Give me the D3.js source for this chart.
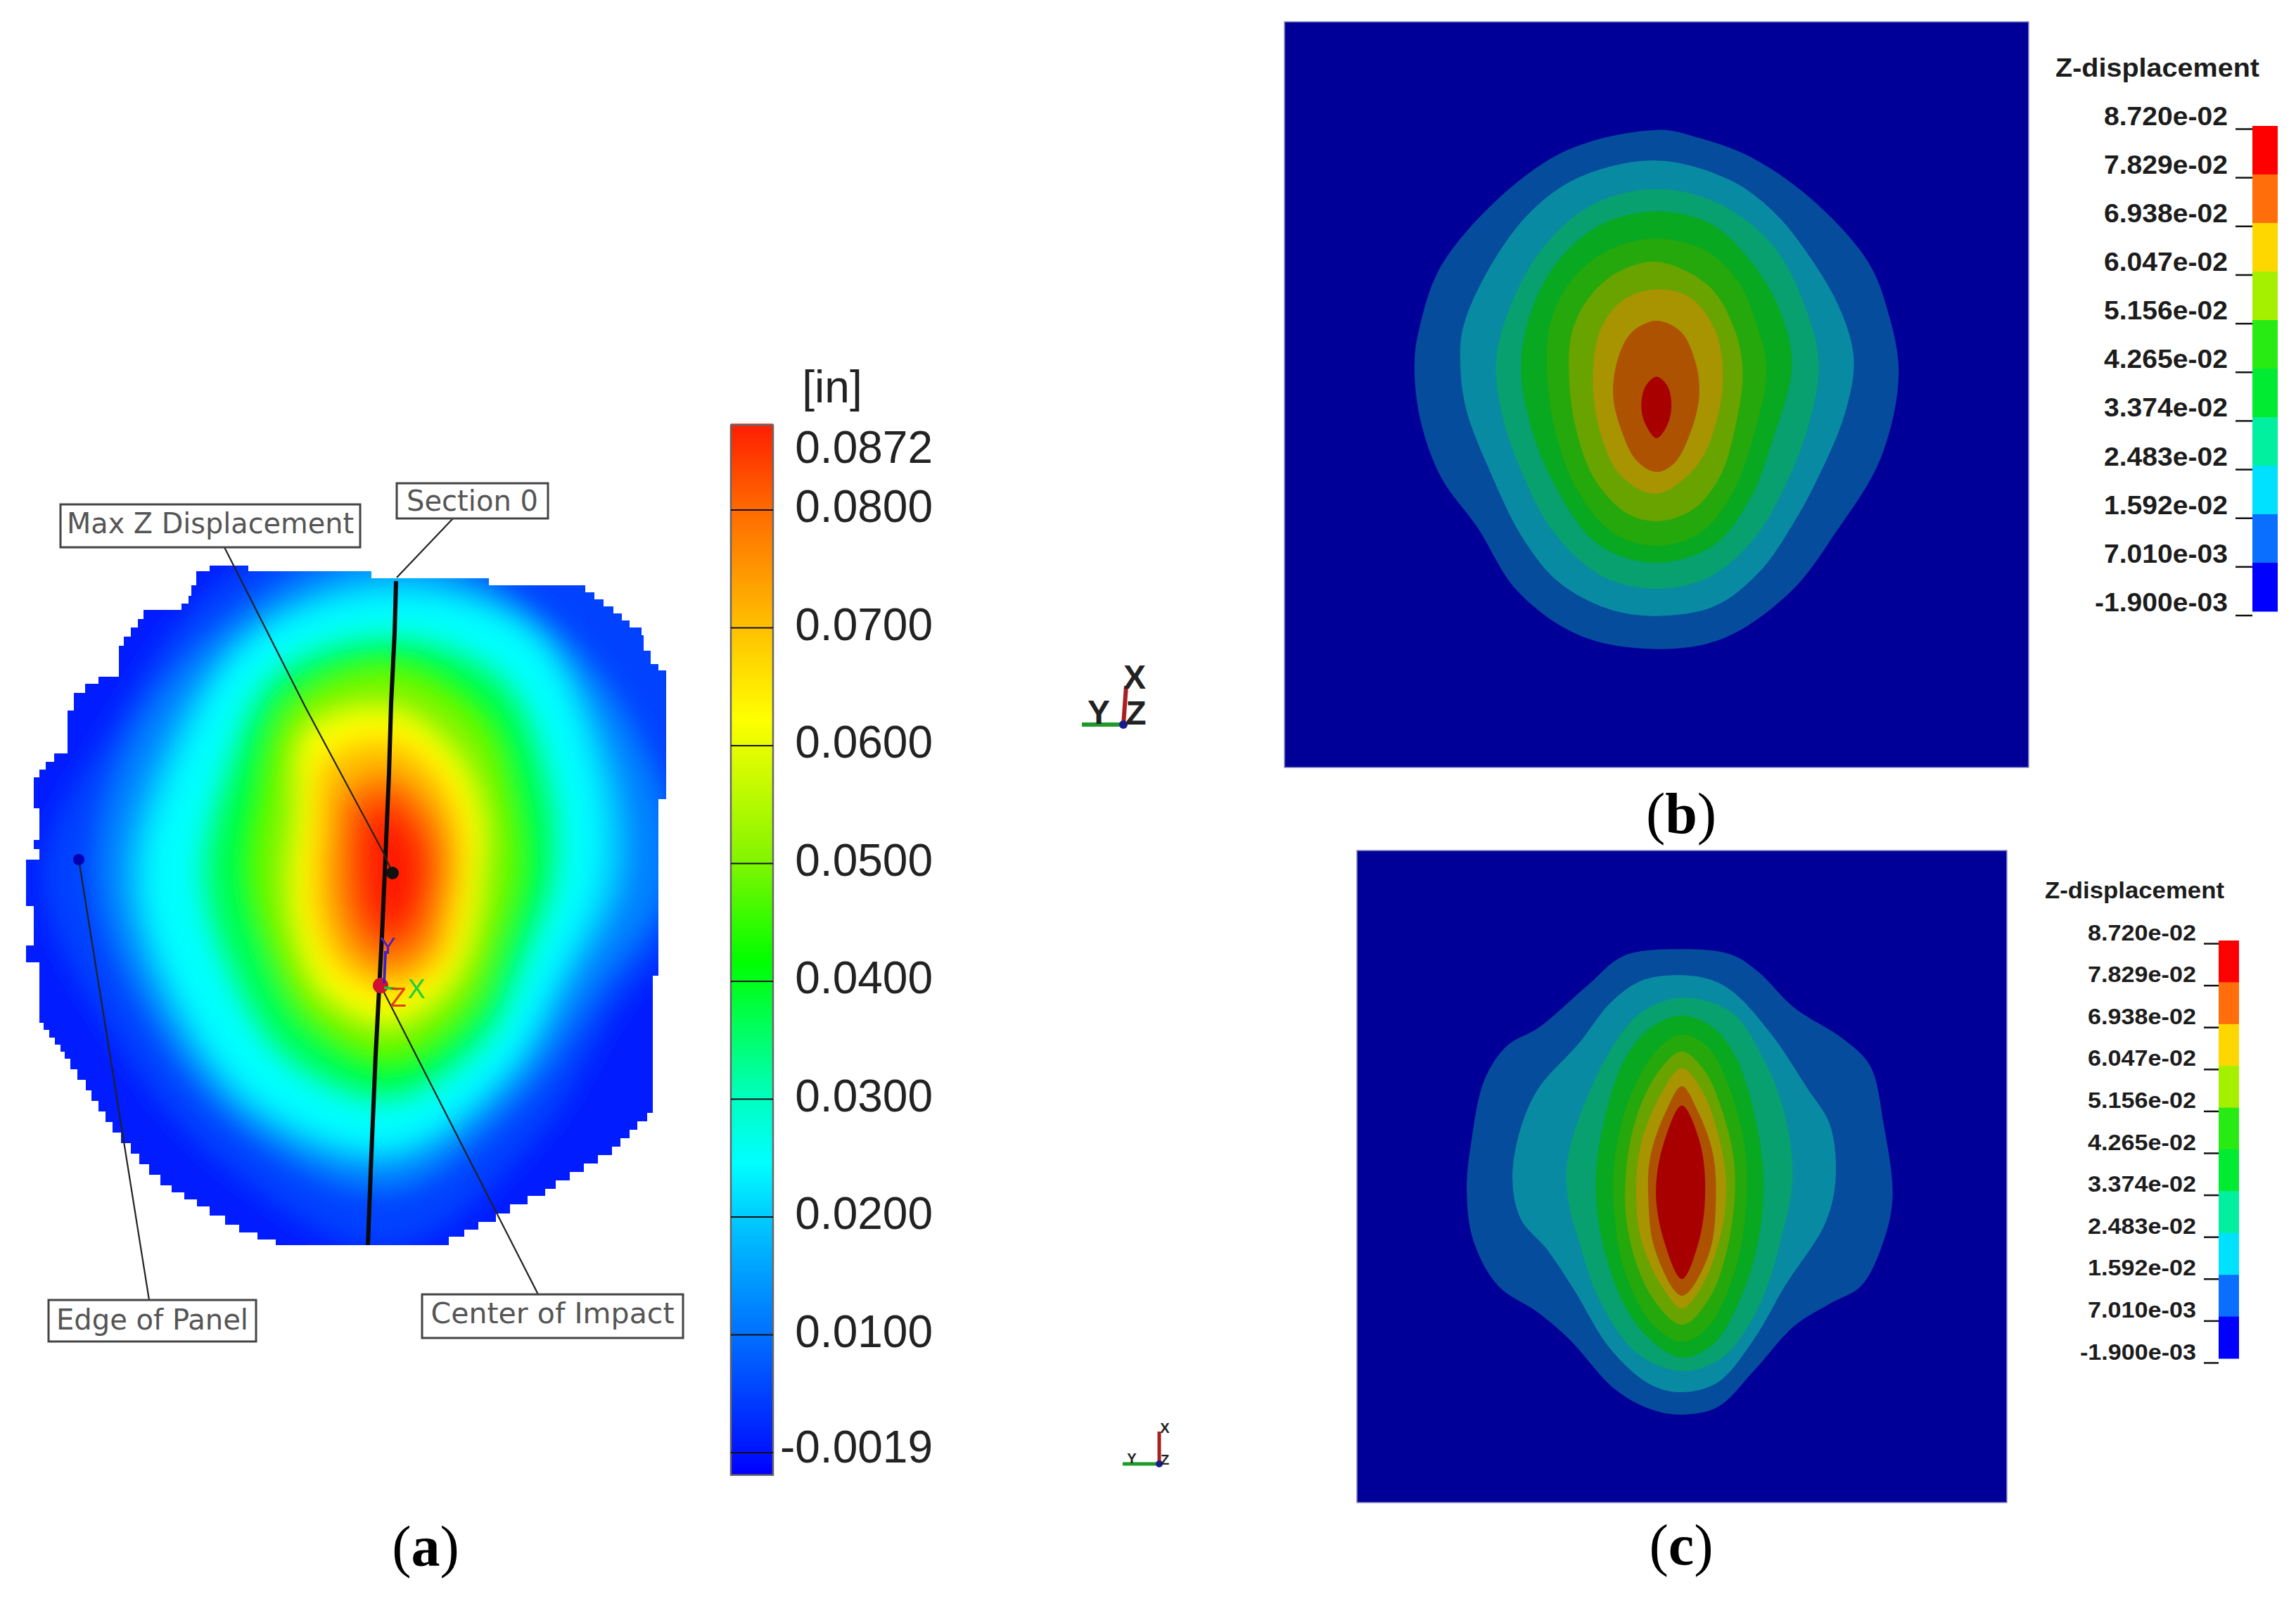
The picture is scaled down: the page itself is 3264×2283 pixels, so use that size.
<!DOCTYPE html>
<html>
<head>
<meta charset="utf-8">
<script src="https://cdn.jsdelivr.net/npm/d3@7"></script>
<style>
  body { margin: 0; background: #fff; }
  text { font-family: "Liberation Sans", Arial, sans-serif; }
</style>
</head>
<body>
<div id="figure"></div>
<script>
const fieldCenter = [555, 1245];
const fieldAngles = [0, 30, 60, 90, 120, 150, 180, 210, 240, 270, 300, 330];
const fieldLevels = [0.005, 0.012, 0.02, 0.0245, 0.036, 0.0416, 0.05, 0.0622, 0.07, 0.078, 0.084, 0.0872];
const fieldRadii = [
  [520, 530, 500, 470, 370, 420, 525, 470, 450, 490, 445, 480],
  [470, 425, 400, 400, 335, 365, 445, 415, 395, 415, 415, 430],
  [425, 405, 355, 330, 295, 335, 405, 390, 365, 372, 368, 400],
  [395, 395, 325, 293, 272, 318, 382, 368, 342, 345, 340, 385],
  [345, 328, 268, 240, 230, 275, 325, 305, 272, 272, 280, 335],
  [319, 285, 225, 205, 197, 240, 288, 255, 218, 222, 240, 300],
  [285, 245, 190, 170, 170, 210, 250, 225, 190, 185, 200, 272],
  [235, 190, 150, 127, 136, 172, 206, 188, 153, 140, 152, 235],
  [195, 155, 120, 105, 112, 145, 168, 152, 125, 113, 125, 190],
  [150, 118, 95, 85, 88, 118, 140, 118, 92, 85, 95, 140],
  [118, 90, 70, 62, 65, 85, 108, 85, 65, 58, 68, 105],
  [85, 62, 50, 45, 48, 60, 75, 55, 42, 38, 45, 72]
];

// jagged panel outline, clockwise from the top left notch
const panelOutline = [
  [298, 804], [353, 804], [353, 812], [528, 812], [528, 822], [695, 822], [695, 832], [815, 832],
  [832, 842], [845, 852], [858, 862], [872, 872], [884, 882], [895, 892], [912, 903], [915, 925],
  [925, 944], [936, 953], [947, 962], [947, 1136], [936, 1136], [936, 1387], [928, 1390], [928, 1582],
  [920, 1594], [906, 1606], [895, 1618], [882, 1630], [870, 1642], [850, 1654], [830, 1666], [810, 1678],
  [790, 1690], [775, 1700], [750, 1712], [725, 1725], [705, 1737], [680, 1748], [660, 1758], [638, 1770],
  [408, 1770], [392, 1762], [366, 1752], [340, 1741], [320, 1728], [298, 1715], [280, 1705], [262, 1695],
  [244, 1685], [228, 1670], [212, 1655], [198, 1640], [186, 1625], [172, 1610], [160, 1595], [150, 1580],
  [140, 1565], [130, 1550], [122, 1535], [110, 1520], [100, 1505], [92, 1495], [86, 1485], [78, 1475],
  [70, 1464], [62, 1454], [56, 1440], [56, 1368], [37, 1368], [37, 1344], [48, 1344], [48, 1288],
  [37, 1288], [37, 1222], [56, 1222], [56, 1207], [48, 1207], [48, 1194], [56, 1194], [56, 1149],
  [48, 1149], [48, 1105], [56, 1094], [65, 1083], [77, 1071], [96, 1071], [96, 1010], [105, 985],
  [121, 972], [140, 962], [169, 962], [169, 918], [176, 905], [186, 892], [196, 880], [204, 867],
  [249, 867], [258, 858], [268, 847], [272, 832], [279, 812], [298, 804]
];

const sectionLine = [[563, 826], [561, 900], [556, 1000], [553, 1100], [547, 1240], [543, 1330], [534, 1500], [528, 1640], [523, 1770]];

const calloutNames = ["Max Z Displacement", "Section 0", "Edge of Panel", "Center of Impact"];
const calloutBoxes = [[86, 717, 426, 61], [564, 687, 215, 50], [69, 1848, 295, 59], [600, 1840, 371, 62]];
const calloutTextWidths = [408, 187, 273, 346];
const calloutTextLift = [4, 0, 2, 4];
const calloutLeaders = [
  [[319, 778], [434, 1005], [545, 1212], [558, 1241]],
  [[644, 737], [564, 821]],
  [[112, 1222], [212, 1848]],
  [[541, 1401], [765, 1840]]
];
const calloutDots = [[558, 1241, 9, "#111111"], [112, 1222, 8, "#0000b0"], [541, 1401, 11, "#d01030"]];

// colour bar of panel (a)
const barStopValues = [-0.0019, 0, 0.01, 0.02, 0.0245, 0.03, 0.0416, 0.05, 0.0622, 0.07, 0.08, 0.0872];
const barStopColors = ["#0000ff", "#0014ff", "#0070ff", "#00ccff", "#00ffff", "#00ffc0", "#00ff00", "#80f500", "#ffff00", "#ffc000", "#ff6a00", "#ff1e00"];
const barLineValues = [0.08, 0.07, 0.06, 0.05, 0.04, 0.03, 0.02, 0.01, 0];
const barLabelValues = [0.0850, 0.08, 0.07, 0.06, 0.05, 0.04, 0.03, 0.02, 0.01, 0.0002];
const barLabels = ["0.0872", "0.0800", "0.0700", "0.0600", "0.0500", "0.0400", "0.0300", "0.0200", "0.0100", "-0.0019"];

// legends of panels (b) and (c)
const legendValues = [0.0872, 0.07829, 0.06938, 0.06047, 0.05156, 0.04265, 0.03374, 0.02483, 0.01592, 0.00701, -0.0019];
const legendLabels = ["8.720e-02", "7.829e-02", "6.938e-02", "6.047e-02", "5.156e-02", "4.265e-02", "3.374e-02", "2.483e-02", "1.592e-02", "7.010e-03", "-1.900e-03"];
const legendColors = ["#ff0000", "#ff6e0a", "#ffd700", "#a5f000", "#28eb14", "#00eb32", "#00f0a0", "#00e1ff", "#0a6eff", "#0000ff"];

// contour bands seen through the dimmed view, outside to centre
const bandBackground = "#000099";
const bandColors = ["#054c9c", "#098aa3", "#07a06e", "#08a820", "#24a80c", "#68a300", "#a89400", "#ad5200", "#a80000"];

// contour outlines, digitised in panel units
const contoursB = [
  [[870,235],[960,250],[1080,290],[1215,375],[1340,500],[1385,600],[1410,730],[1370,900],[1270,1050],[1170,1170],[1020,1265],[870,1287],[700,1260],[560,1170],[470,1040],[390,940],[345,830],[330,720],[340,640],[400,495],[640,290]],
  [[870,297],[1030,335],[1130,400],[1210,490],[1280,600],[1310,700],[1290,810],[1230,940],[1170,1040],[1100,1130],[1000,1200],[870,1220],[760,1205],[650,1150],[570,1060],[500,930],[445,800],[432,700],[440,630],[500,510],[590,400],[700,330]],
  [[870,355],[1010,385],[1130,470],[1200,590],[1232,710],[1210,830],[1160,950],[1090,1060],[990,1140],[870,1165],[750,1140],[640,1050],[570,930],[525,810],[512,700],[545,590],[620,470],[730,385]],
  [[870,400],[990,425],[1070,490],[1140,590],[1172,710],[1130,860],[1080,980],[1000,1075],[870,1112],[740,1075],[640,950],[585,820],[568,700],[600,580],[660,490],[750,425]],
  [[870,455],[980,480],[1050,540],[1090,620],[1115,720],[1085,860],[1040,970],[970,1050],[870,1078],[770,1050],[690,960],[640,830],[625,710],[635,620],[680,540],[760,480]],
  [[870,502],[985,550],[1040,630],[1062,720],[1045,840],[1010,940],[950,1005],[870,1028],[800,1010],[730,940],[690,840],[675,740],[680,650],[715,580],[780,525]],
  [[870,558],[945,575],[1000,640],[1018,730],[1005,820],[960,915],[870,972],[790,935],[745,850],[728,740],[745,640],[795,580]],
  [[870,622],[925,645],[958,710],[965,775],[945,850],[910,910],[870,928],[825,905],[790,840],[773,770],[785,695],[815,645]],
  [[870,735],[895,755],[903,798],[893,835],[870,860],[847,835],[836,798],[845,755]]
];
const contoursC = [
  [[770,250],[880,262],[940,300],[1020,380],[1130,450],[1190,510],[1220,640],[1240,800],[1220,900],[1170,1000],[1100,1040],[1020,1090],[930,1190],[850,1270],[770,1287],[700,1275],[620,1230],[520,1120],[450,1060],[360,1000],[305,900],[290,790],[300,680],[330,540],[380,465],[450,425],[560,330],[640,265]],
  [[770,308],[840,320],[890,350],[970,440],[1050,560],[1100,640],[1113,760],[1090,860],[1000,1000],[930,1120],[850,1215],[770,1237],[700,1220],[610,1140],[530,1010],[470,920],[410,850],[392,760],[410,650],[450,560],[540,460],[610,370],[680,320]],
  [[770,358],[880,390],[950,490],[1000,620],[1017,760],[990,900],[940,1050],[860,1160],[770,1190],[670,1150],[590,1040],[540,900],[515,800],[515,720],[550,600],[620,460],[680,390]],
  [[770,398],[840,425],[890,490],[930,610],[952,760],[940,900],[900,1030],[840,1130],[770,1160],[700,1120],[640,1040],[590,890],[578,760],[595,640],[640,500],[700,425]],
  [[770,440],[830,470],[880,570],[910,690],[915,800],[890,960],[830,1090],[770,1125],[700,1080],[640,960],[618,820],[620,720],[650,590],[710,480]],
  [[770,478],[820,520],[860,610],[888,740],[875,900],[830,1030],[770,1087],[700,1020],[650,880],[645,750],[670,620],[720,520]],
  [[770,515],[815,565],[850,660],[868,760],[860,870],[815,1000],[770,1050],[725,1000],[680,900],[668,790],[680,680],[725,570]],
  [[770,555],[805,610],[838,700],[846,800],[830,930],[770,1022],[710,920],[695,800],[700,710],[735,610]],
  [[770,598],[810,680],[822,790],[808,900],[770,985],[730,900],[712,790],[730,680]]
];

const width = 3264;
const height = 2283;

const svg = d3.select("#figure").append("svg")
  .attr("width", width)
  .attr("height", height)
  .style("display", "block");

const defs = svg.append("defs");
const fieldColor = d3.scaleLinear().domain(barStopValues).range(barStopColors);

// ---- panel (a) ----
const px = d3.scaleIdentity();
const py = d3.scaleIdentity();

defs.append("filter")
  .attr("id", "soften")
  .attr("filterUnits", "userSpaceOnUse")
  .attr("x", 0).attr("y", 500).attr("width", 1200).attr("height", 1500)
  .append("feGaussianBlur").attr("stdDeviation", 18);

defs.append("clipPath").attr("id", "panel-clip")
  .append("path")
  .attr("d", d3.line().x(d => px(d[0])).y(d => py(d[1])).curve(d3.curveStepAfter)(panelOutline) + "Z");

const field = svg.append("g").attr("clip-path", "url(#panel-clip)")
  .append("g").attr("filter", "url(#soften)");

field.append("rect")
  .attr("x", px(0)).attr("y", py(600))
  .attr("width", px(1100)).attr("height", py(1300))
  .attr("fill", fieldColor(0.001));

const ring = d3.lineRadial()
  .angle((d, i) => fieldAngles[i] * Math.PI / 180)
  .radius(d => d)
  .curve(d3.curveCatmullRomClosed);

field.selectAll("path")
  .data(fieldRadii)
  .enter()
  .append("path")
  .attr("transform", `translate(${px(fieldCenter[0])},${py(fieldCenter[1])})`)
  .attr("fill", (d, i) => fieldColor(fieldLevels[i]))
  .attr("d", d => ring(d));

const pathLine = d3.line().x(d => px(d[0])).y(d => py(d[1]));

svg.append("path")
  .attr("d", pathLine(sectionLine))
  .attr("fill", "none").attr("stroke", "#0a0a0a").attr("stroke-width", 6);

svg.selectAll(".leader")
  .data(calloutLeaders)
  .enter()
  .append("path")
  .attr("class", "leader")
  .attr("d", d => pathLine(d))
  .attr("fill", "none").attr("stroke", "#222").attr("stroke-width", 2.2);

svg.selectAll(".dot")
  .data(calloutDots)
  .enter()
  .append("circle")
  .attr("class", "dot")
  .attr("cx", d => px(d[0])).attr("cy", d => py(d[1])).attr("r", d => d[2])
  .attr("fill", d => d[3]);

// small coordinate system at the impact point
const impactAxes = svg.append("g");
impactAxes.append("line").attr("x1", 546).attr("y1", 1398).attr("x2", 548).attr("y2", 1352)
  .attr("stroke", "#3a20d0").attr("stroke-width", 4);
impactAxes.append("line").attr("x1", 546).attr("y1", 1404).attr("x2", 566).attr("y2", 1406)
  .attr("stroke", "#20c040").attr("stroke-width", 4);
impactAxes.append("text").attr("x", 551).attr("y", 1356).attr("text-anchor", "middle")
  .attr("font-size", 34).attr("fill", "#4a20d0").text("Y");
impactAxes.append("text").attr("x", 566).attr("y", 1431).attr("text-anchor", "middle")
  .attr("font-size", 38).attr("fill", "#e04010").text("Z");
impactAxes.append("text").attr("x", 592).attr("y", 1419).attr("text-anchor", "middle")
  .attr("font-size", 38).attr("fill", "#20d040").text("X");

const callout = svg.selectAll(".callout")
  .data(calloutNames)
  .enter()
  .append("g")
  .attr("class", "callout");

callout.append("rect")
  .attr("x", (d, i) => px(calloutBoxes[i][0]))
  .attr("y", (d, i) => py(calloutBoxes[i][1]))
  .attr("width", (d, i) => calloutBoxes[i][2])
  .attr("height", (d, i) => calloutBoxes[i][3])
  .attr("fill", "#fff").attr("stroke", "#444").attr("stroke-width", 3);

callout.append("text")
  .attr("x", (d, i) => px(calloutBoxes[i][0] + calloutBoxes[i][2] / 2))
  .attr("y", (d, i) => py(calloutBoxes[i][1] + calloutBoxes[i][3] / 2) - calloutTextLift[i])
  .attr("dy", "0.36em")
  .attr("text-anchor", "middle")
  .attr("textLength", (d, i) => calloutTextWidths[i])
  .attr("lengthAdjust", "spacingAndGlyphs")
  .attr("font-size", 40)
  .style("font-family", "'DejaVu Sans', sans-serif")
  .attr("fill", "#555")
  .text(d => d);

// colour bar (a)
const barY = d3.scaleLinear().domain([0, 0.08]).range([2065, 725]);
const barX = 1039;
const barW = 60;
const barSteps = d3.range(-0.0019, 0.0872, 0.0002);

svg.selectAll(".bar-step")
  .data(barSteps)
  .enter()
  .append("rect")
  .attr("class", "bar-step")
  .attr("x", barX).attr("width", barW)
  .attr("y", d => barY(d + 0.0002) - 0.5)
  .attr("height", d => barY(d) - barY(d + 0.0002) + 1)
  .attr("fill", d => fieldColor(d));

svg.append("rect")
  .attr("x", barX).attr("y", barY(0.0872))
  .attr("width", barW).attr("height", barY(-0.0019) - barY(0.0872))
  .attr("fill", "none").attr("stroke", "#666").attr("stroke-width", 2.5);

svg.selectAll(".bar-line")
  .data(barLineValues)
  .enter()
  .append("line")
  .attr("class", "bar-line")
  .attr("x1", barX).attr("x2", barX + barW)
  .attr("y1", d => barY(d)).attr("y2", d => barY(d))
  .attr("stroke", "#111").attr("stroke-width", 2);

svg.append("g")
  .attr("transform", `translate(${barX + barW},0)`)
  .call(d3.axisRight(barY).tickValues(barLabelValues).tickSize(0).tickFormat((d, i) => barLabels[i]))
  .call(g => g.select(".domain").remove())
  .selectAll("text")
  .attr("x", 227)
  .attr("dy", "0.26em")
  .attr("text-anchor", "end")
  .attr("font-size", 64)
  .style("font-family", "'Liberation Sans', sans-serif")
  .attr("fill", "#222");

svg.append("text")
  .attr("x", 1183).attr("y", 572)
  .attr("text-anchor", "middle")
  .attr("font-size", 64)
  .attr("fill", "#222")
  .text("[in]");

// XYZ triads
function drawTriad(cfg) {
  const g = svg.append("g");
  g.append("line").attr("x1", cfg.ox).attr("y1", cfg.oy).attr("x2", cfg.ox - cfg.yLen).attr("y2", cfg.oy)
    .attr("stroke", "#1d9a2a").attr("stroke-width", cfg.stroke);
  g.append("line").attr("x1", cfg.ox).attr("y1", cfg.oy).attr("x2", cfg.ox + cfg.lean).attr("y2", cfg.oy - cfg.xLen)
    .attr("stroke", "#a82020").attr("stroke-width", cfg.stroke);
  g.append("circle").attr("cx", cfg.ox).attr("cy", cfg.oy).attr("r", cfg.stroke)
    .attr("fill", "#1a1a90");
  cfg.labels.forEach(l => {
    g.append("text").attr("x", l[1]).attr("y", l[2])
      .attr("text-anchor", "middle").attr("font-size", cfg.size)
      .attr("fill", "#222").attr("font-weight", cfg.weight).text(l[0]);
  });
}

drawTriad({ ox: 1597, oy: 1030, yLen: 59, xLen: 55, lean: 4, stroke: 6, size: 48, weight: 700,
  labels: [["X", 1613, 979], ["Y", 1562, 1029], ["Z", 1615, 1030]] });
drawTriad({ ox: 1648, oy: 2081, yLen: 52, xLen: 46, lean: 0, stroke: 5, size: 20, weight: 700,
  labels: [["X", 1656, 2037], ["Y", 1609, 2080], ["Z", 1656, 2082]] });

// ---- panels (b) and (c) ----
function drawPanel(contours, box, domainX, domainY) {
  const x = d3.scaleLinear().domain(domainX).range([box.x0, box.x1]);
  const y = d3.scaleLinear().domain(domainY).range([box.y0, box.y1]);
  svg.append("rect")
    .attr("x", box.x0).attr("y", box.y0)
    .attr("width", box.x1 - box.x0).attr("height", box.y1 - box.y0)
    .attr("fill", bandBackground).attr("stroke", "#8c8cc4").attr("stroke-width", 1.5);
  const outline = d3.line().x(d => x(d[0])).y(d => y(d[1])).curve(d3.curveCatmullRomClosed);
  svg.append("g").selectAll("path")
    .data(contours)
    .enter()
    .append("path")
    .attr("d", d => outline(d))
    .attr("fill", (d, i) => bandColors[i]);
}

drawPanel(contoursB, { x0: 1826, x1: 2884, y0: 31, y1: 1091 }, [40, 1700], [16, 1527]);
drawPanel(contoursC, { x0: 1929, x1: 2853, y0: 1209, y1: 2136 }, [45, 1495], [30, 1483]);

function drawLegend(cfg) {
  const tickY = d3.scaleLinear().domain([-0.0019, 0.0872]).range([cfg.tickBottom, cfg.tickTop]);
  const segY = d3.scaleLinear().domain([-0.0019, 0.0872]).range([cfg.barBottom, cfg.barTop]);
  svg.append("g").selectAll("rect")
    .data(legendColors)
    .enter()
    .append("rect")
    .attr("x", cfg.barX).attr("width", cfg.barW)
    .attr("y", (d, i) => segY(legendValues[i]))
    .attr("height", (d, i) => segY(legendValues[i + 1]) - segY(legendValues[i]) + 0.5)
    .attr("fill", d => d);

  const axis = svg.append("g")
    .attr("transform", `translate(${cfg.barX},0)`)
    .call(d3.axisLeft(tickY).tickValues(legendValues).tickSize(cfg.tickLen).tickPadding(cfg.pad)
      .tickFormat((d, i) => legendLabels[i]))
    .call(g => g.select(".domain").remove());
  axis.selectAll("line").attr("stroke", "#111").attr("stroke-width", 2.5);
  axis.selectAll("text")
    .attr("dy", cfg.labelDy)
    .attr("font-size", cfg.size)
    .attr("font-weight", 700)
    .style("font-family", "'Liberation Sans', sans-serif")
    .attr("fill", "#1c1c1c")
    .attr("textLength", d => d < 0 ? cfg.widthNeg : cfg.widthPos)
    .attr("lengthAdjust", "spacingAndGlyphs");

  svg.append("text")
    .attr("x", cfg.titleX).attr("y", cfg.titleY)
    .attr("textLength", cfg.titleW)
    .attr("lengthAdjust", "spacingAndGlyphs")
    .attr("font-size", cfg.size + 1)
    .attr("font-weight", 700)
    .attr("fill", "#1c1c1c")
    .text("Z-displacement");
}

drawLegend({ barX: 3202, barW: 36, barTop: 179, barBottom: 869, tickTop: 183, tickBottom: 874.5,
  tickLen: 24, pad: 11, labelDy: -6, size: 36, widthPos: 176, widthNeg: 189,
  titleX: 2922, titleY: 109, titleW: 290 });
drawLegend({ barX: 3154, barW: 29, barTop: 1337, barBottom: 1931, tickTop: 1341, tickBottom: 1937,
  tickLen: 21, pad: 11, labelDy: -5, size: 32, widthPos: 154, widthNeg: 165,
  titleX: 2907, titleY: 1277, titleW: 255 });

// ---- captions ----
const captionLetters = ["a", "b", "c"];
const captionX = [605, 2390, 2390];
const captionY = [2226, 1184, 2224];

const caption = svg.selectAll(".caption")
  .data(captionLetters)
  .enter()
  .append("text")
  .attr("class", "caption")
  .attr("x", (d, i) => captionX[i])
  .attr("y", (d, i) => captionY[i])
  .attr("text-anchor", "middle")
  .attr("font-size", 82)
  .style("font-family", "'Liberation Serif', serif")
  .attr("fill", "#000");
caption.append("tspan").text("(");
caption.append("tspan").attr("font-weight", 700).text(d => d);
caption.append("tspan").text(")");
</script>
</body>
</html>
